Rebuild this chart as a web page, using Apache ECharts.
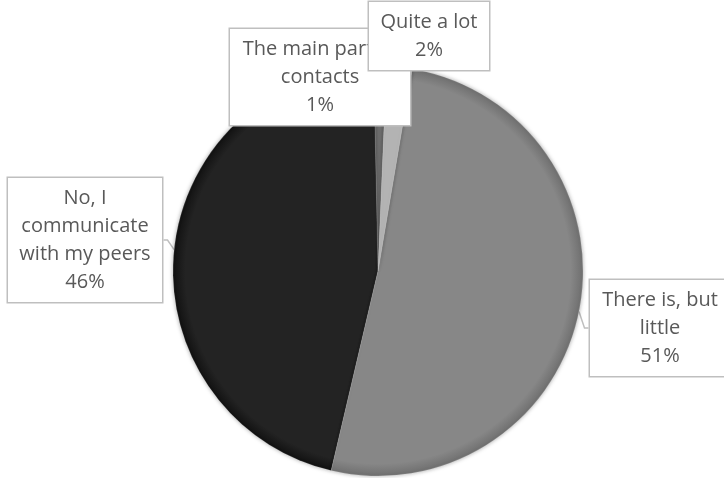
<!DOCTYPE html>
<html>
<head>
<meta charset="utf-8">
<script src="https://cdn.jsdelivr.net/npm/echarts@6/dist/echarts.min.js"></script>
<style>html,body{margin:0;padding:0;background:#fff;}#c{width:724px;height:478px;}</style>
</head>
<body>
<div id="c"></div>
<script>
// Data (counter-clockwise drawing order so that "Quite a lot" label sits on top)
const categories = ['The main part of\ncontacts', 'No, I\ncommunicate\nwith my peers', 'There is, but\nlittle', 'Quite a lot'];
const values = [1, 46, 51, 2];

const sliceColors = ['#6e6e6e', '#232323', '#878787', '#b3b3b3'];
const edgeColors  = ['#5a5a5a', '#111111', '#6f6f6f', '#979797'];
const boxes = [
  { cx: 320, cy: 77,  w: 164, showLine: false },
  { cx: 85,  cy: 240, w: 138, showLine: true },
  { cx: 660, cy: 328, w: 124, showLine: true },
  { cx: 429, cy: 36,  w: 104, showLine: false }
];
const CX = 378, CY = 271, R = 205;

const chart = echarts.init(document.getElementById('c'));
chart.setOption({
  animation: false,
  backgroundColor: '#ffffff',
  series: [{
    type: 'pie',
    center: [CX, CY],
    radius: R,
    startAngle: 87.6,
    clockwise: false,
    avoidLabelOverlap: false,
    data: categories.map((n, i) => ({
      name: n,
      value: values[i],
      itemStyle: {
        color: {
          type: 'radial', x: CX, y: CY, r: R, global: true,
          colorStops: [
            { offset: 0, color: sliceColors[i] },
            { offset: 0.94, color: sliceColors[i] },
            { offset: 1, color: edgeColors[i] }
          ]
        }
      },
      label: { width: boxes[i].w },
      labelLine: { show: boxes[i].showLine }
    })),
    itemStyle: {
      borderColor: 'rgba(255,255,255,0.25)',
      borderWidth: 0.5,
      shadowBlur: 4,
      shadowColor: 'rgba(0,0,0,0.35)'
    },
    label: {
      show: true,
      position: 'outside',
      formatter: '{b}\n{d}%',
      fontFamily: 'Open Sans',
      fontSize: 20,
      lineHeight: 28,
      color: '#595959',
      align: 'center',
      backgroundColor: '#ffffff',
      borderColor: '#bfbfbf',
      borderWidth: 1.5,
      padding: [6, 8, 6, 8]
    },
    labelLine: {
      length: 4, length2: 4,
      lineStyle: { color: '#bfbfbf', width: 1.5 }
    },
    labelLayout: function (p) {
      const b = boxes[p.dataIndex];
      return { x: b.cx, y: b.cy, align: 'center', verticalAlign: 'middle' };
    }
  }]
});
</script>
</body>
</html>
